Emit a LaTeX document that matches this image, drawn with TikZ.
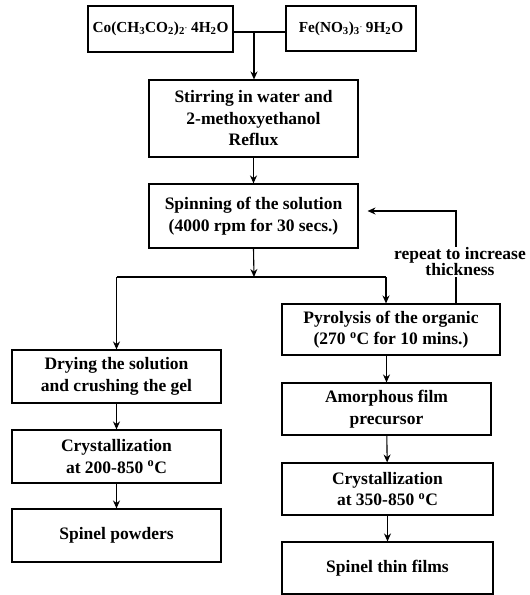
\documentclass[tikz,border=0pt]{standalone}
\usepackage{fontspec}
\setmainfont{Liberation Serif}
\usetikzlibrary{arrows.meta}
\tikzset{
  box/.style={draw, line width=1.1pt, align=center, inner sep=2pt,
    font=\fontsize{17.5}{21.5}\selectfont\bfseries},
  chem/.style={box, font=\fontsize{15.3}{18}\selectfont\bfseries},
  conn/.style={line width=1.1pt},
  arr/.style={conn, -{Stealth[length=8pt,width=7pt]}},
  lbl/.style={align=center, fill=white, inner sep=1pt,
    font=\fontsize{17.5}{16}\selectfont\bfseries}
}
\newcommand{\degC}{\textsuperscript{o}C}
\newcommand{\hdot}{\raisebox{0.35ex}{\scriptsize·}}
\begin{document}
\begin{tikzpicture}[x=1pt,y=-1pt]
\useasboundingbox (0,0) rectangle (530,595);
\node[chem, minimum width=145pt, minimum height=46pt] (co) at (160.5,29)
  {Co(CH\textsubscript{3}CO\textsubscript{2})\textsubscript{2}\hdot{} 4H\textsubscript{2}O};
\node[chem, minimum width=130pt, minimum height=45pt] (fe) at (351,28.5)
  {Fe(NO\textsubscript{3})\textsubscript{3}\hdot{} 9H\textsubscript{2}O};
\node[box, minimum width=209pt, minimum height=77pt] (stir) at (253.5,118.5)
  {Stirring in water and\\2-methoxyethanol\\Reflux};
\node[box, minimum width=209pt, minimum height=64pt] (spin) at (253.5,216)
  {Spinning of the solution\\(4000 rpm for 30 secs.)};
\node[box, minimum width=218pt, minimum height=51pt] (pyro) at (391,329.5)
  {Pyrolysis of the organic\\(270 \degC{} for 10 mins.)};
\node[box, minimum width=209pt, minimum height=53pt] (dry) at (116.5,376.5)
  {Drying the solution\\and crushing the gel};
\node[box, minimum width=209pt, minimum height=53pt] (crysL) at (116.5,456.5)
  {Crystallization\\at 200-850 \degC};
\node[box, minimum width=209pt, minimum height=53pt] (powd) at (116.5,535.5)
  {Spinel powders};
\node[box, minimum width=209pt, minimum height=52pt] (amor) at (386.5,409)
  {Amorphous film\\precursor};
\node[box, minimum width=211pt, minimum height=52pt] (crysR) at (387.5,489)
  {Crystallization\\at 350-850 \degC};
\node[box, minimum width=211pt, minimum height=52pt] (thin) at (387.5,568)
  {Spinel thin films};
% top junction
\coordinate (j1) at (254,32);
\draw[conn] (co.east |- j1) -- (fe.west |- j1);
\draw[arr] (j1) -- (stir.north -| j1);
\draw[arr] (stir) -- (spin);
% split
\coordinate (j2) at (254,277);
\coordinate (jl) at (116.5,277);
\coordinate (jr) at (386,277);
\draw[arr] (spin.south) -- (j2);
\draw[conn] (jl) -- (jr);
\draw[arr] (jl) -- (dry.north);
\draw[arr] (jr) -- (pyro.north -| jr);
% feedback
\coordinate (fb) at (456,211);
\draw[arr, shorten >=9pt] (pyro.north -| fb) -- (fb) -- (spin.east |- fb);
\node[lbl] (rep) at (460,262) {repeat to increase\\thickness};
% left column
\draw[arr] (dry) -- (crysL);
\draw[arr] (crysL) -- (powd);
% right column
\draw[arr] (pyro.south -| amor) -- (amor.north);
\draw[arr] (amor) -- (crysR);
\draw[arr] (crysR) -- (thin);
\end{tikzpicture}
\end{document}
